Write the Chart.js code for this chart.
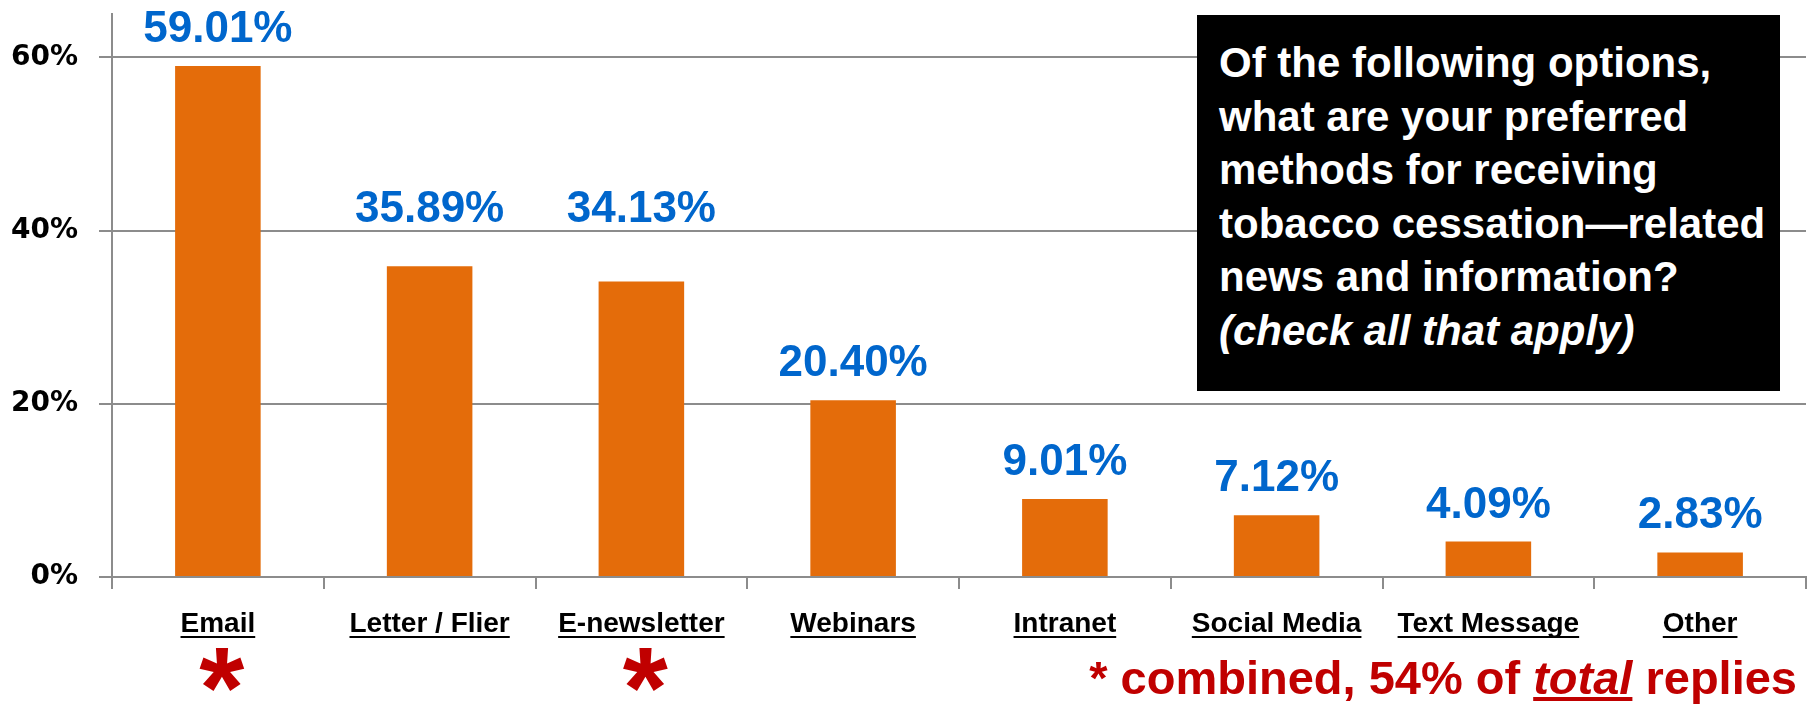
<!DOCTYPE html>
<html>
<head>
<meta charset="utf-8">
<script src="https://cdn.jsdelivr.net/npm/chart.js@4"></script>
<style>
  body { margin: 0; background: #fff; }
  #wrap { position: relative; width: 1812px; height: 706px; }
  .question {
    position: absolute; left: 1197px; top: 15px; width: 583px; height: 376px;
    background: #000; color: #fff; box-sizing: border-box; padding: 21px 0 0 22px;
    font: bold 42px "Liberation Sans", Arial, sans-serif; line-height: 53.5px;
  }
  .note {
    position: absolute; right: 15px; top: 654px; color: #C00000; white-space: nowrap;
    font: bold 47px "Liberation Sans", Arial, sans-serif; line-height: 47px;
  }
  .note u { font-style: italic; }
</style>
</head>
<body>
<div id="wrap">
  <canvas id="chart" width="1812" height="706"></canvas>
  <div class="question">Of the following options,<br>what are your preferred<br>methods for receiving<br>tobacco cessation—related<br>news and information?<br><i>(check all that apply)</i></div>
  <div class="note">* combined, 54% of <u>total</u> replies</div>
</div>
<script>
const categories = ['Email', 'Letter / Flier', 'E-newsletter', 'Webinars', 'Intranet', 'Social Media', 'Text Message', 'Other'];
const values = [59.01, 35.89, 34.13, 20.40, 9.01, 7.12, 4.09, 2.83];
const starred = [true, false, true, false, false, false, false, false];
const yTicks = [0, 20, 40, 60];

const FONT = '"Liberation Sans", Arial, sans-serif';

// value labels, underlined category names and the red asterisks
const barExtras = {
  id: 'barExtras',
  afterDraw(chart, args, opts) {
    const ctx = chart.ctx;
    const meta = chart.getDatasetMeta(0);
    ctx.save();
    meta.data.forEach((bar, i) => {
      ctx.textAlign = 'center';
      ctx.textBaseline = 'alphabetic';

      ctx.font = 'bold 44px ' + FONT;
      ctx.fillStyle = '#0066CC';
      ctx.fillText(values[i].toFixed(2) + '%', bar.x, bar.y - 24 - (opts.lift[i] || 0));

      ctx.font = 'bold 28px ' + FONT;
      ctx.fillStyle = '#000';
      ctx.fillText(categories[i], bar.x, 632);
      const w = ctx.measureText(categories[i]).width;
      ctx.fillRect(bar.x - w / 2, 636, w, 2);

      if (starred[i]) {
        ctx.font = 'bold 100px ' + FONT;
        let m = ctx.measureText('*');
        const size = 100 * 44 / (m.actualBoundingBoxAscent + m.actualBoundingBoxDescent);
        ctx.font = 'bold ' + size + 'px ' + FONT;
        m = ctx.measureText('*');
        const base = 669 + (m.actualBoundingBoxAscent - m.actualBoundingBoxDescent) / 2;
        ctx.fillStyle = '#C00000';
        ctx.fillText('*', bar.x + 4, base);
      }
    });
    ctx.restore();
  }
};

new Chart(document.getElementById('chart'), {
  type: 'bar',
  data: {
    labels: categories,
    datasets: [{
      data: values,
      backgroundColor: '#E46C0A',
      categoryPercentage: 1,
      barPercentage: 0.404
    }]
  },
  options: {
    responsive: false,
    animation: false,
    devicePixelRatio: 1,
    layout: { padding: { top: 14, right: 6, left: 0, bottom: 0 } },
    plugins: {
      legend: { display: false },
      tooltip: { enabled: false },
      barExtras: { lift: [0, 20, 35, 0, 0, 0, 0, 0] }
    },
    scales: {
      x: {
        afterFit: s => { s.height = 129; s.paddingLeft = 0; s.paddingRight = 0; },
        grid: { drawOnChartArea: false, tickLength: 12, color: '#8C8C8C', lineWidth: 2 },
        border: { color: '#8C8C8C', width: 2 },
        ticks: { display: false }
      },
      y: {
        min: 0,
        max: 65,
        afterFit: s => { s.width = 112; s.paddingTop = 0; s.paddingBottom = 0; },
        afterBuildTicks: axis => { axis.ticks = yTicks.map(v => ({ value: v })); },
        grid: { color: '#8C8C8C', lineWidth: 2, tickLength: 13 },
        border: { color: '#8C8C8C', width: 2 },
        ticks: {
          padding: 21,
          color: '#000',
          font: { family: '"DejaVu Sans", Verdana, sans-serif', weight: 'bold', size: 28 },
          callback: v => v + '%'
        }
      }
    }
  },
  plugins: [barExtras]
});
</script>
</body>
</html>
